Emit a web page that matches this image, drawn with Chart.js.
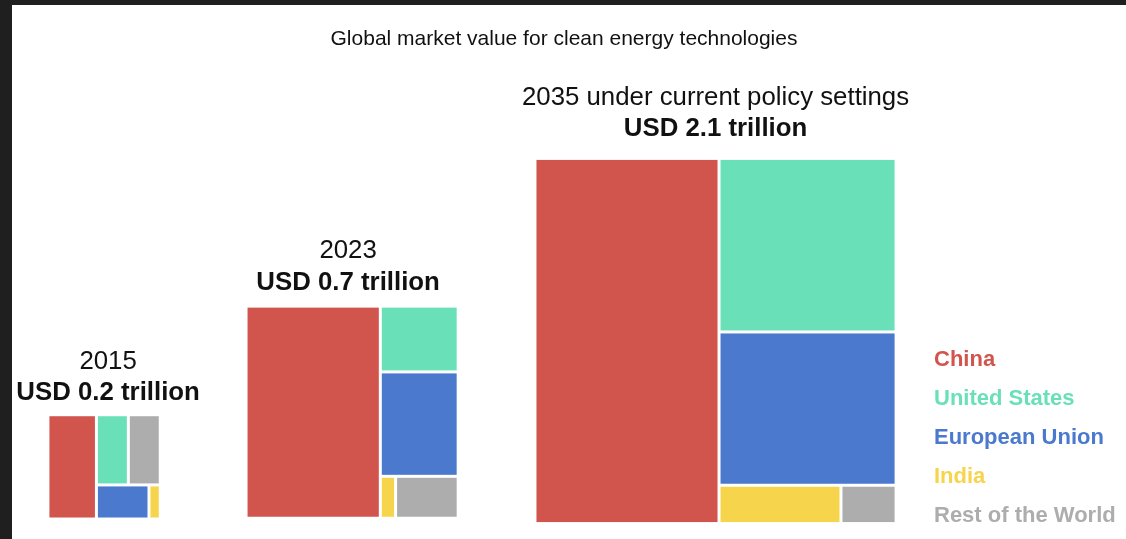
<!DOCTYPE html>
<html>
<head>
<meta charset="utf-8">
<title>Global market value for clean energy technologies</title>
<script src="https://cdn.jsdelivr.net/npm/chart.js@4.4.1/dist/chart.umd.min.js"></script>
<style>
  html, body { margin: 0; padding: 0; background: #1f1f1f; }
  #wrap { position: absolute; left: 12px; top: 5px; width: 1114px; height: 534px; background: #fff; }
</style>
</head>
<body>
<div id="wrap"><canvas id="myChart"></canvas></div>
<script>
const regions = ['China', 'United States', 'European Union', 'India', 'Rest of the World'];
const regionColors = ['#D1554D', '#69E0B8', '#4B79CD', '#F6D44C', '#ADADAD'];
const yearLabels = ['2015', '2023', '2035 under current policy settings'];
const totalLabels = ['USD 0.2 trillion', 'USD 0.7 trillion', 'USD 2.1 trillion'];

// market value in USD trillion
const china = [0.079, 0.445, 1.05];
const unitedStates = [0.035, 0.08, 0.48];
const europeanUnion = [0.028, 0.127, 0.424];
const india = [0.006, 0.01, 0.073];
const restOfWorld = [0.035, 0.041, 0.033];
const values = [china, unitedStates, europeanUnion, india, restOfWorld];

// how each box is cut: columns at depth 0, rows at depth 1, columns at depth 2
const splits = [
  [0, [[1, 4], [2, 3]]],
  [0, [1, 2, [3, 4]]],
  [0, [1, 2, [3, 4]]]
];

// placement of each box (units are sqrt of USD trillion, so area = value)
const boxLeft = [0.142, 0.925, 2.067];
const boxBottom = [0, 0.003, -0.018];
const boxAspect = [1.077, 1, 0.989];
const yMin = -0.079;
const yMax = 1.834;
// heading lines, pixels above the top of each box, and sideways nudge
const yearLift = [53, 55.5, 61];
const totalLift = [22, 23.5, 30];
const headShift = [4, -4, 0];

const fontFamily = "'Liberation Sans', Arial, Helvetica, sans-serif";
Chart.defaults.font.family = fontFamily;

function nodeSum(node, yi) {
  if (Array.isArray(node)) {
    return node.reduce((s, n) => s + nodeSum(n, yi), 0);
  }
  return values[node][yi];
}

function cut(node, yi, x0, y0, x1, y1, depth, out) {
  if (!Array.isArray(node)) {
    out.push({ region: node, year: yi, x0: x0, y0: y0, x1: x1, y1: y1 });
    return;
  }
  const total = nodeSum(node, yi);
  let pos = depth % 2 === 0 ? x0 : y1;
  node.forEach((n) => {
    const share = nodeSum(n, yi) / total;
    if (depth % 2 === 0) {
      const w = (x1 - x0) * share;
      cut(n, yi, pos, y0, pos + w, y1, depth + 1, out);
      pos += w;
    } else {
      const h = (y1 - y0) * share;
      cut(n, yi, x0, pos - h, x1, pos, depth + 1, out);
      pos -= h;
    }
  });
}

// lay out the three boxes
const boxes = [];
const rects = [];
splits.forEach((tree, yi) => {
  const total = nodeSum(tree, yi);
  const w = Math.sqrt(total * boxAspect[yi]);
  const h = Math.sqrt(total / boxAspect[yi]);
  const b = { x0: boxLeft[yi], y0: boxBottom[yi], x1: boxLeft[yi] + w, y1: boxBottom[yi] + h };
  boxes.push(b);
  cut(tree, yi, b.x0, b.y0, b.x1, b.y1, 0, rects);
});

const datasets = regions.map((name, i) => ({
  label: name,
  backgroundColor: regionColors[i],
  borderColor: regionColors[i],
  pointRadius: 0,
  pointHoverRadius: 0,
  data: rects.filter((r) => r.region === i).map((r) => ({
    x: (r.x0 + r.x1) / 2, y: (r.y0 + r.y1) / 2, x0: r.x0, x1: r.x1, y0: r.y0, y1: r.y1
  }))
}));

// draws the rectangles and the year headings with the chart's scales
const treemapBoxes = {
  id: 'treemapBoxes',
  beforeDatasetsDraw(chart) {
    const { ctx } = chart;
    const xs = chart.scales.x;
    const ys = chart.scales.y;
    const gap = 1.5;
    ctx.save();
    chart.data.datasets.forEach((ds) => {
      ctx.fillStyle = ds.backgroundColor;
      ds.data.forEach((p) => {
        const left = xs.getPixelForValue(p.x0);
        const right = xs.getPixelForValue(p.x1);
        const top = ys.getPixelForValue(p.y1);
        const bottom = ys.getPixelForValue(p.y0);
        ctx.fillRect(left + gap, top + gap, right - left - 2 * gap, bottom - top - 2 * gap);
      });
    });

    ctx.fillStyle = '#111';
    ctx.textAlign = 'center';
    ctx.textBaseline = 'middle';
    boxes.forEach((b, i) => {
      const cx = xs.getPixelForValue((b.x0 + b.x1) / 2) + headShift[i];
      const top = ys.getPixelForValue(b.y1);
      ctx.font = '25.8px ' + fontFamily;
      ctx.fillText(yearLabels[i], cx, top - yearLift[i]);
      ctx.font = 'bold 25.8px ' + fontFamily;
      ctx.fillText(totalLabels[i], cx, top - totalLift[i]);
    });
    ctx.restore();
  }
};

const config = {
  type: 'scatter',
  data: { datasets: datasets },
  options: {
    responsive: true,
    maintainAspectRatio: false,
    animation: false,
    events: [],
    layout: { padding: { left: 0, right: 10, top: 0, bottom: 0 } },
    scales: {
      x: { type: 'linear', display: false, min: 0, max: 3.55 },
      y: { type: 'linear', display: false, min: yMin, max: yMax }
    },
    plugins: {
      title: {
        display: true,
        text: 'Global market value for clean energy technologies',
        color: '#111',
        font: { size: 21, weight: 'normal' },
        padding: { top: 22, bottom: 2.8 }
      },
      legend: {
        position: 'right',
        align: 'end',
        maxWidth: 201,
        labels: {
          boxWidth: 0,
          boxHeight: 31,
          padding: 8,
          font: { size: 22, weight: 'bold' },
          generateLabels: () => regions.map((name, i) => ({
            text: name,
            fontColor: regionColors[i],
            fillStyle: 'transparent',
            strokeStyle: 'transparent',
            lineWidth: 0,
            hidden: false,
            datasetIndex: i
          }))
        }
      },
      tooltip: { enabled: false }
    }
  },
  plugins: [treemapBoxes]
};

const myChart = new Chart(document.getElementById('myChart'), config);
// keep one unit the same length on both axes so the areas stay true
const area = myChart.chartArea;
myChart.options.scales.x.max = (area.right - area.left) / (area.bottom - area.top) * (yMax - yMin);
myChart.update('none');
</script>
</body>
</html>
